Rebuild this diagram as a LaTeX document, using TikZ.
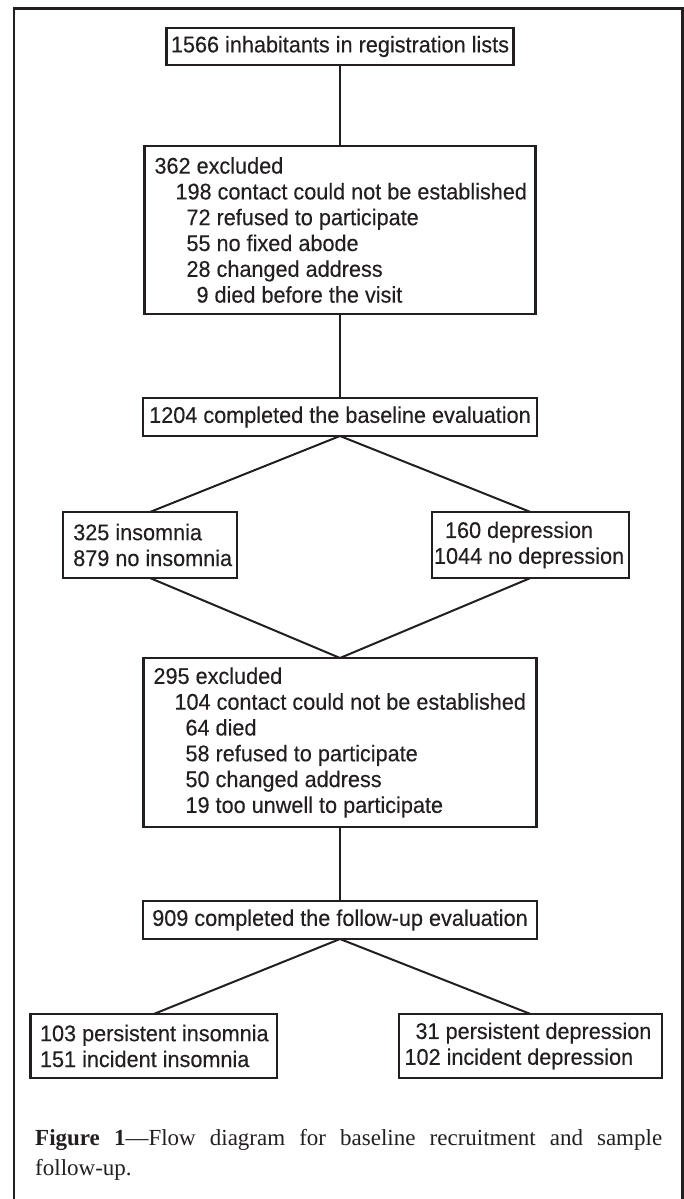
\documentclass[tikz,border=0pt]{standalone}
\usepackage{fontspec}
\setmainfont{Liberation Serif}
\newfontfamily\boxfont[FakeStretch=0.955,FakeBold=0.3]{Liberation Sans}
\definecolor{ink}{HTML}{231F20}
\begin{document}
\begin{tikzpicture}[x=1pt,y=-1pt,
  txt/.style={inner sep=0pt, outer sep=0pt, text=ink, align=left,
    font=\boxfont\fontsize{22.67}{25.8}\selectfont},
  box/.style={txt, align=center, draw=ink, line width=2.2pt},
  frame/.style={draw=ink, line width=2.2pt, inner sep=0pt, outer sep=0pt},
  link/.style={draw=ink, line width=2pt},
]
\useasboundingbox (0,0) rectangle (684,1199);
\draw[ink, line width=2.6pt] (14,1199) -- (14,8.5) -- (682.5,8.5) -- (682.5,1199);

\node[box, minimum width=347pt, minimum height=37pt] (reg) at (340,46.5)
  {1566 inhabitants in registration lists};

\node[frame, minimum width=391pt, minimum height=168pt] (exclA) at (340,230) {};
\node[txt, anchor=west] (exclAt) at ([xshift=10pt]exclA.west)
  {362 excluded\\
   \hspace*{21pt}198 contact could not be established\\
   \hspace*{32pt}72 refused to participate\\
   \hspace*{32pt}55 no fixed abode\\
   \hspace*{32pt}28 changed address\\
   \hspace*{42pt}9 died before the visit};

\node[box, minimum width=394pt, minimum height=38pt] (base) at (340,417)
  {1204 completed the baseline evaluation};

\node[frame, minimum width=173.5pt, minimum height=66pt] (insA) at (150,545) {};
\node[txt, anchor=west] (insAt) at ([xshift=10pt]insA.west)
  {325 insomnia\\879 no insomnia};

\node[frame, minimum width=197pt, minimum height=66pt] (depA) at (530.5,545) {};
\node[txt, anchor=west] (depAt) at ([xshift=2pt]depA.west)
  {\hspace*{11pt}160 depression\\1044 no depression};

\node[frame, minimum width=393pt, minimum height=169pt] (exclB) at (340,742.5) {};
\node[txt, anchor=west] (exclBt) at ([xshift=10pt]exclB.west)
  {295 excluded\\
   \hspace*{21pt}104 contact could not be established\\
   \hspace*{32pt}64 died\\
   \hspace*{32pt}58 refused to participate\\
   \hspace*{32pt}50 changed address\\
   \hspace*{32pt}19 too unwell to participate};

\node[box, minimum width=394pt, minimum height=38pt] (fup) at (340,920)
  {909 completed the follow-up evaluation};

\node[frame, minimum width=246.5pt, minimum height=64pt] (insB) at (153.75,1046) {};
\node[txt, anchor=west] (insBt) at ([xshift=9.5pt]insB.west)
  {103 persistent insomnia\\151 incident insomnia};

\node[frame, minimum width=263pt, minimum height=64pt] (depB) at (530.5,1046) {};
\node[txt, anchor=west] (depBt) at ([xshift=5.5pt]depB.west)
  {\hspace*{11pt}31 persistent depression\\102 incident depression};

\draw[link] (reg.south) -- (exclA.north);
\draw[link] (exclA.south) -- (base.north);
\draw[link] (base.south) -- (insA.north);
\draw[link] (base.south) -- (depA.north);
\draw[link] (insA.south) -- (exclB.north);
\draw[link] (depA.south) -- (exclB.north);
\draw[link] (exclB.south) -- (fup.north);
\draw[link] (fup.south) -- (insB.north);
\draw[link] (fup.south) -- (depB.north);

\node[anchor=north west, inner sep=0pt, text width=627pt, align=justify, text=ink,
  font=\fontsize{23}{30}\selectfont] (cap) at (35,1129)
  {\textbf{Figure 1}—Flow diagram for baseline recruitment and sample\linebreak follow-up.};
\end{tikzpicture}
\end{document}
